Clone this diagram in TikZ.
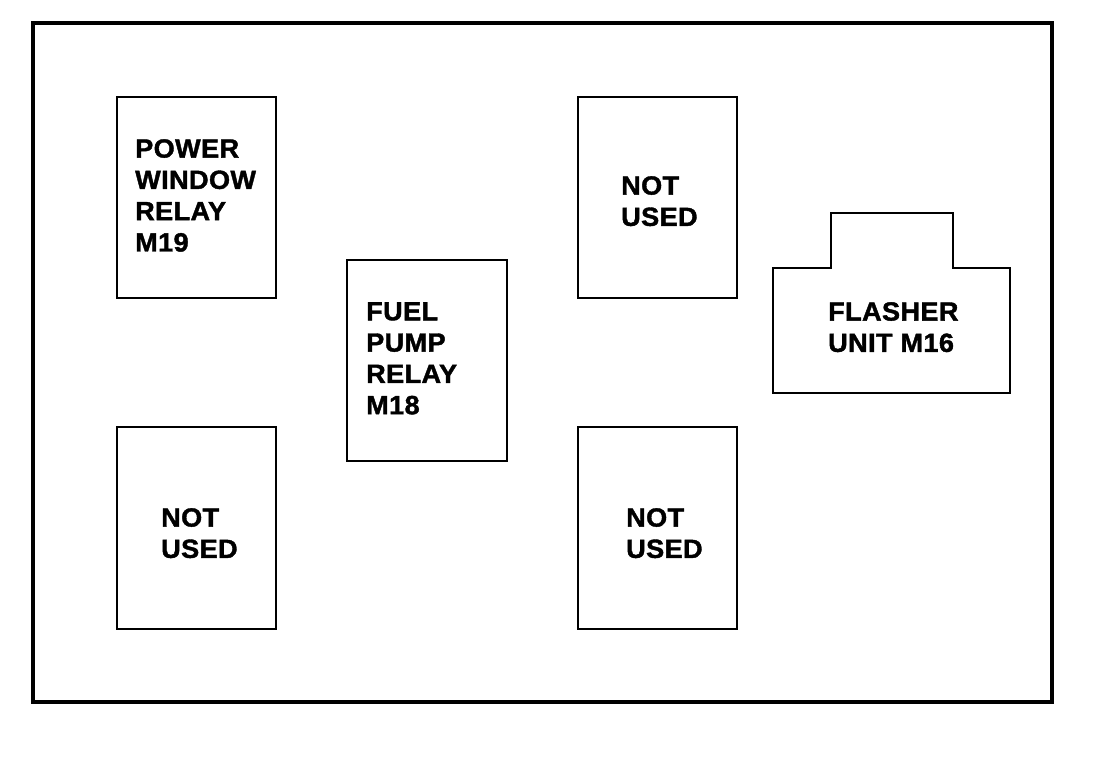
\documentclass[tikz,border=0pt]{standalone}
\usepackage{fontspec}
\setmainfont{Liberation Sans}
\newfontfamily\lblfont{Liberation Sans Bold}[LetterSpace=1.5,FakeStretch=1.03,FakeBold=1.5]
\begin{document}
\begin{tikzpicture}[x=1pt,y=-1pt,
  box/.style={draw=black,line width=2pt},
  lbl/.style={anchor=north west,inner sep=0pt,align=left,
    font=\lblfont\fontsize{26.3}{31.3}\selectfont}]
\useasboundingbox (0,0) rectangle (1120,756);
\fill[white] (0,0) rectangle (1120,756);
% outer frame
\draw[line width=3.5pt] (33,23) rectangle (1052,702);
% relay boxes
\draw[box] (117,97) rectangle (276,298);
\draw[box] (347,260) rectangle (507,461);
\draw[box] (578,97) rectangle (737,298);
\draw[box] (117,427) rectangle (276,629);
\draw[box] (578,427) rectangle (737,629);
% flasher unit
\draw[box] (773,268) -- (831,268) -- (831,213) -- (953,213) -- (953,268)
  -- (1010,268) -- (1010,393) -- (773,393) -- cycle;
% labels
\node[lbl] (pw) at (135,139) {POWER\\WINDOW\\RELAY\\M19};
\node[lbl] (fp) at (366,302) {FUEL\\PUMP\\RELAY\\M18};
\node[lbl] (nu1) at (621,176) {NOT\\USED};
\node[lbl] (nu2) at (161,508) {NOT\\USED};
\node[lbl] (nu3) at (626,508) {NOT\\USED};
\node[lbl] (fl) at (828,302) {FLASHER\\UNIT M16};
\end{tikzpicture}
\end{document}
